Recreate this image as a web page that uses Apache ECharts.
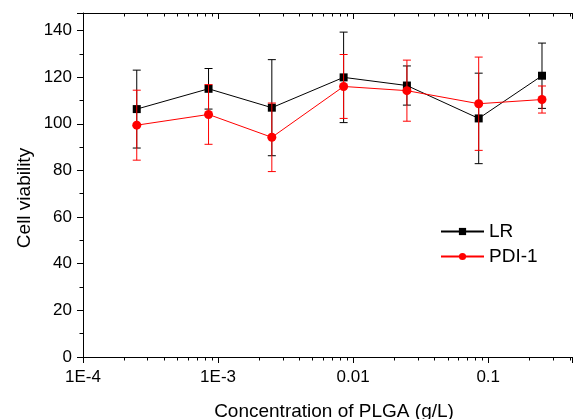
<!DOCTYPE html>
<html>
<head>
<meta charset="utf-8">
<script src="https://cdn.jsdelivr.net/npm/echarts@6/dist/echarts.min.js"></script>
<style>
html,body{margin:0;padding:0;background:#fff;}
#chart{width:575px;height:419px;}
</style>
</head>
<body>
<div id="chart"></div>
<script>
// ---- data ----
var concentrations = [2.5e-4, 8.5e-4, 2.5e-3, 8.5e-3, 0.025, 0.085, 0.25];
var lrMean  = [106.3, 115.0, 106.9, 119.9, 116.4, 102.3, 120.6];
var lrErr   = [16.7, 8.7, 20.6, 19.4, 8.4, 19.4, 14.0];
var pdiMean = [99.4, 104.0, 94.2, 116.0, 114.2, 108.6, 110.4];
var pdiErr  = [15.0, 12.8, 14.7, 13.7, 13.1, 20.0, 5.8];
var xTickLabels = {'-4': '1E-4', '-3': '1E-3', '-2': '0.01', '-1': '0.1'};
var minorMultipliers = [2, 3, 4, 5, 6, 7, 8, 9];
var minorDecades = [1e-4, 1e-3, 1e-2, 1e-1];

var X_MIN = 1e-4, X_MAX = 0.417, Y_MIN = 0, Y_MAX = 147.5;
var FONT = 'Liberation Sans, Arial, sans-serif';

var minorTickValues = [];
minorDecades.forEach(function (d) {
  minorMultipliers.forEach(function (m) {
    var v = m * d;
    if (v < X_MAX) minorTickValues.push(v);
  });
});

function pairs(xs, ys) { return xs.map(function (x, i) { return [x, ys[i]]; }); }
function errData(xs, m, e) { return xs.map(function (x, i) { return [x, m[i] - e[i], m[i] + e[i]]; }); }

function errorRender(color) {
  return function (params, api) {
    var x = api.value(0);
    var lo = api.coord([x, api.value(1)]);
    var hi = api.coord([x, api.value(2)]);
    var hw = 4;
    var st = { stroke: color, lineWidth: 1 };
    return {
      type: 'group',
      children: [
        { type: 'line', shape: { x1: lo[0], y1: lo[1], x2: hi[0], y2: hi[1] }, style: st },
        { type: 'line', shape: { x1: lo[0] - hw, y1: lo[1], x2: lo[0] + hw, y2: lo[1] }, style: st },
        { type: 'line', shape: { x1: hi[0] - hw, y1: hi[1], x2: hi[0] + hw, y2: hi[1] }, style: st }
      ]
    };
  };
}

function minorTickRender(params, api) {
  var cs = params.coordSys;
  var p = api.coord([api.value(0), Y_MIN]);
  var x = Math.round(p[0]) + 0.5;
  var st = { stroke: '#000', lineWidth: 1 };
  return {
    type: 'group',
    children: [
      { type: 'line', shape: { x1: x, y1: cs.y + cs.height, x2: x, y2: cs.y + cs.height + 3.5 }, style: st },
      { type: 'line', shape: { x1: x, y1: cs.y, x2: x, y2: cs.y + 3.5 }, style: st }
    ]
  };
}

var chart = echarts.init(document.getElementById('chart'), null, { renderer: 'canvas' });

var option = {
  animation: false,
  backgroundColor: '#fff',
  textStyle: { fontFamily: FONT },
  grid: { left: 83, top: 13, right: 0, bottom: 62, containLabel: false },
  xAxis: [
    {
      type: 'log', logBase: 10, min: X_MIN, max: X_MAX, position: 'bottom',
      axisLine: { show: true, onZero: false, lineStyle: { color: '#000', width: 1 } },
      axisTick: { show: true, inside: false, length: 6, lineStyle: { color: '#000' } },
      minorTick: { show: false },
      splitLine: { show: false },
      axisLabel: {
        show: true, margin: 12, color: '#000', fontSize: 17, fontFamily: FONT,
        formatter: function (v) {
          var e = Math.round(Math.log10(v));
          if (Math.abs(Math.log10(v) - e) > 1e-6) return '';
          var s = xTickLabels[String(e)];
          return s === undefined ? '' : s;
        }
      }
    },
    {
      type: 'log', logBase: 10, min: X_MIN, max: X_MAX, position: 'top',
      axisLine: { show: true, onZero: false, lineStyle: { color: '#000', width: 1 } },
      axisTick: { show: true, inside: true, length: 6, lineStyle: { color: '#000' } },
      axisLabel: { show: false },
      splitLine: { show: false }
    }
  ],
  yAxis: {
    type: 'value', min: Y_MIN, max: Y_MAX, interval: 20,
    axisLine: { show: true, onZero: false, lineStyle: { color: '#000', width: 1 } },
    axisTick: { show: true, inside: false, length: 6, lineStyle: { color: '#000' } },
    minorTick: { show: true, splitNumber: 2, length: 3.5, lineStyle: { color: '#000' } },
    splitLine: { show: false },
    axisLabel: {
      margin: 11, color: '#000', fontSize: 17, fontFamily: FONT,
      formatter: function (v) { return (v % 20 === 0) ? String(v) : ''; }
    }
  },
  legend: {
    data: ['LR', 'PDI-1'],
    orient: 'vertical',
    left: 440, top: 222, padding: 0,
    itemWidth: 43, itemHeight: 9, itemGap: 6,
    textStyle: { fontSize: 19, color: '#000', fontFamily: FONT }
  },
  graphic: [
    {
      type: 'text', x: 25, y: 198, rotation: Math.PI / 2,
      style: { text: 'Cell viability', font: '19px ' + FONT, fill: '#000', align: 'center', verticalAlign: 'middle' }
    },
    {
      type: 'text', x: 334, y: 412,
      style: { text: 'Concentration of PLGA (g/L)', font: '19px ' + FONT, fill: '#000', align: 'center', verticalAlign: 'middle' }
    }
  ],
  series: [
    {
      name: 'minorTicks', type: 'custom', xAxisIndex: 0, silent: true, clip: false,
      renderItem: minorTickRender,
      data: minorTickValues.map(function (v) { return [v]; }),
      encode: { x: 0 }, z: 1
    },
    {
      name: 'LR-err', type: 'custom', renderItem: errorRender('#000'),
      data: errData(concentrations, lrMean, lrErr), encode: { x: 0, y: [1, 2] }, z: 2, clip: false
    },
    {
      name: 'LR', type: 'line', data: pairs(concentrations, lrMean),
      symbol: 'rect', symbolSize: 8,
      lineStyle: { color: '#000', width: 1 }, itemStyle: { color: '#000' }, z: 3
    },
    {
      name: 'PDI-1-err', type: 'custom', renderItem: errorRender('#ff0000'),
      data: errData(concentrations, pdiMean, pdiErr), encode: { x: 0, y: [1, 2] }, z: 4, clip: false
    },
    {
      name: 'PDI-1', type: 'line', data: pairs(concentrations, pdiMean),
      symbol: 'circle', symbolSize: 9,
      lineStyle: { color: '#ff0000', width: 1 }, itemStyle: { color: '#ff0000' }, z: 5
    }
  ]
};
chart.setOption(option);
</script>
</body>
</html>
